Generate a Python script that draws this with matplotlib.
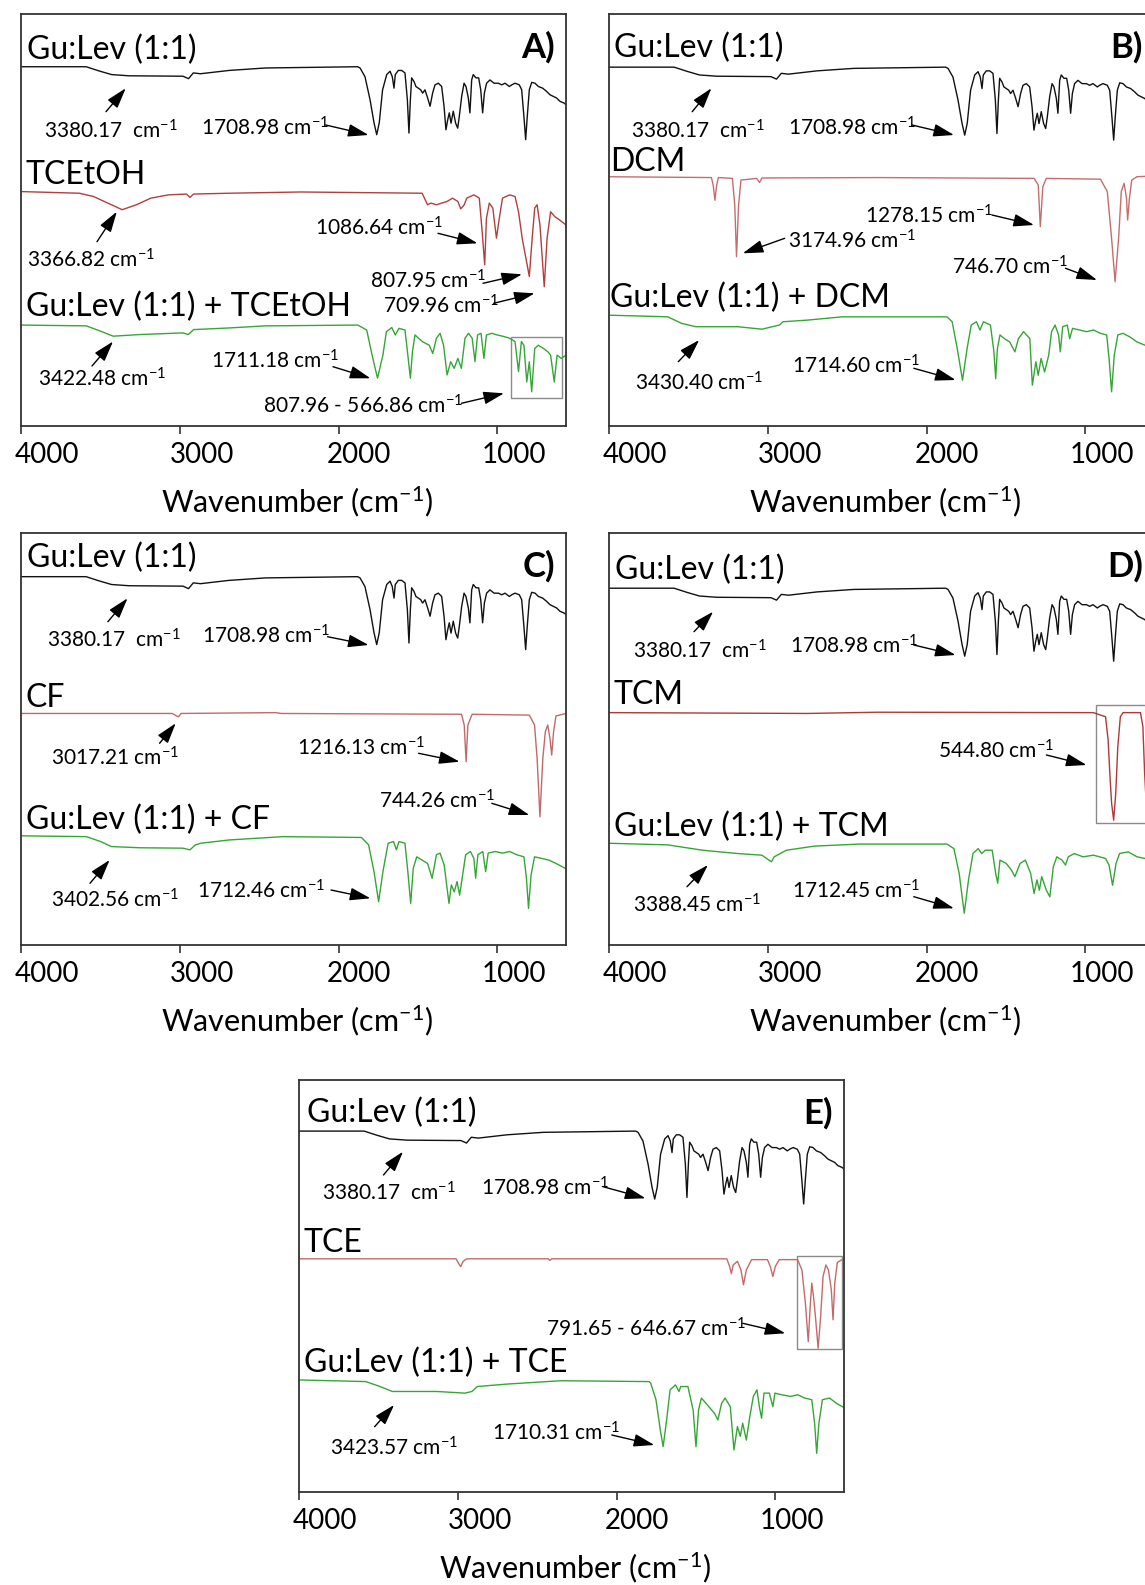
"""FTIR spectra of Gu:Lev (1:1) with five chlorinated solvents, panels A-E."""
import matplotlib
matplotlib.use("Agg")
import matplotlib.pyplot as plt
from matplotlib.patches import Rectangle
from matplotlib.transforms import ScaledTranslation, blended_transform_factory

plt.rcParams["font.family"] = ["Lato", "DejaVu Sans"]
plt.rcParams["mathtext.fontset"] = "custom"
plt.rcParams["mathtext.rm"] = "Lato"
plt.rcParams["mathtext.it"] = "Lato:italic"
plt.rcParams["mathtext.bf"] = "Lato:bold"

FIG_W, FIG_H = 1145, 1585
PANEL_W, PANEL_H = 545, 412
WN_MAX, WN_MIN = 4000, 568
XTICKS = [4000, 3000, 2000, 1000]
XTICK_SHIFT = [26, 22, 20, 17]  # tick labels sit right of their ticks in the original
NOTE_DY = 3  # mathtext superscript pushes the text box up a little

# spectra: (wavenumber, transmittance relative to the plateau)
GULEV = [(4000, 0.0), (3590, 0.0), (3510, -1.0), (3430, -1.9), (3320, -2.2), (2980, -2.3),
         (2945, -2.9), (2915, -1.5), (2870, -1.7), (2690, -0.9), (2460, -0.3), (1880, 0.0),
         (1865, -0.3), (1834, -2.4), (1802, -8.0), (1777, -13.6), (1760, -16.5), (1744, -13.6),
         (1723, -5.6), (1697, -1.9), (1676, -1.1), (1662, -2.4), (1651, -5.2), (1643, -1.9),
         (1624, -0.9), (1603, -0.9), (1582, -1.5), (1567, -8.0), (1557, -16.1), (1548, -8.0),
         (1540, -2.7), (1525, -3.6), (1513, -4.8), (1498, -5.2), (1483, -5.6), (1471, -6.4),
         (1456, -5.6), (1439, -7.6), (1424, -9.6), (1408, -6.4), (1393, -4.4), (1372, -4.0),
         (1351, -4.8), (1336, -9.6), (1324, -15.3), (1313, -12.9), (1303, -11.2), (1292, -13.7),
         (1278, -10.8), (1263, -13.7), (1250, -14.9), (1240, -12.1), (1225, -7.2), (1210, -4.0),
         (1198, -4.8), (1183, -7.6), (1173, -11.2), (1162, -3.2), (1152, -1.9), (1135, -2.7),
         (1118, -2.7), (1105, -5.6), (1093, -11.2), (1082, -6.4), (1068, -4.0), (1047, -3.2),
         (1021, -4.0), (994, -4.0), (973, -4.4), (952, -4.0), (925, -4.8), (910, -4.4),
         (889, -4.0), (862, -4.4), (847, -5.6), (833, -12.1), (822, -17.7), (812, -12.1),
         (799, -5.6), (784, -3.8), (763, -4.0), (742, -4.8), (715, -5.2), (690, -6.0),
         (669, -6.8), (648, -7.2), (627, -7.6), (606, -8.4), (581, -8.8), (568, -9.2)]

TCETOH = [(4000, 0.0), (3633, -0.4), (3543, -1.2), (3453, -2.8), (3363, -4.4), (3273, -3.2),
          (3183, -1.6), (3071, -0.8), (2958, -0.6), (2936, -1.4), (2913, -0.6), (2688, -0.4),
          (2238, -0.1), (1474, -0.4), (1440, -3.2), (1418, -2.8), (1384, -3.2), (1317, -2.4),
          (1283, -1.6), (1249, -2.4), (1231, -4.2), (1209, -3.2), (1193, -1.6), (1148, -0.8),
          (1114, -1.6), (1096, -9.7), (1080, -17.8), (1069, -6.5), (1051, -2.8), (1029, -4.0),
          (1006, -11.3), (988, -6.5), (968, -1.6), (923, -0.8), (889, -1.2), (867, -4.9),
          (844, -11.3), (799, -20.6), (781, -11.3), (765, -4.0), (750, -3.2), (732, -8.1),
          (705, -23.1), (687, -11.3), (665, -4.9), (638, -6.1), (608, -6.9), (568, -8.1)]

MIX_TCETOH = [(4000, 0.0), (3588, -0.2), (3498, -1.5), (3419, -2.7), (3251, -2.3), (2981, -1.9),
              (2947, -2.3), (2913, -1.1), (2688, -0.7), (2463, -0.2), (1879, 0.0), (1823, -1.2),
              (1789, -7.3), (1755, -12.9), (1721, -7.3), (1699, -1.6), (1665, -0.6), (1643, -2.4),
              (1620, -0.8), (1582, -1.2), (1564, -7.3), (1548, -12.9), (1535, -6.5), (1519, -2.4),
              (1474, -4.0), (1429, -4.9), (1407, -6.9), (1384, -3.2), (1361, -2.0), (1339, -4.9),
              (1317, -12.1), (1294, -8.9), (1272, -10.5), (1249, -8.1), (1227, -10.5), (1204, -3.2),
              (1182, -2.0), (1159, -3.2), (1141, -8.9), (1125, -2.4), (1103, -2.0), (1085, -8.1),
              (1069, -2.4), (1035, -2.0), (1002, -2.4), (957, -2.8), (923, -3.2), (889, -4.0),
              (867, -11.3), (849, -4.0), (833, -4.9), (815, -13.8), (799, -8.9), (784, -16.2),
              (765, -5.7), (743, -4.9), (709, -5.7), (682, -6.5), (665, -7.3), (642, -13.8),
              (624, -7.3), (597, -8.1), (568, -7.3)]

DCM = [(4000, 0.0), (3355, -0.2), (3344, -2.0), (3333, -5.7), (3322, -2.0), (3311, -0.2),
       (3223, -0.4), (3208, -6.9), (3197, -19.4), (3184, -6.9), (3169, -0.8), (3070, -0.4),
       (3052, -1.4), (3037, -0.3), (2312, -0.2), (1323, -0.4), (1297, -2.0), (1284, -12.1),
       (1268, -2.4), (1246, -0.4), (905, -0.6), (862, -3.6), (835, -15.0), (813, -25.5),
       (791, -15.0), (774, -3.6), (756, -1.6), (741, -5.3), (734, -10.5), (723, -5.3),
       (708, -0.8), (675, 0.0), (568, 0.2)]

MIX_DCM = [(4000, 0.4), (3630, 0.0), (3542, -1.6), (3454, -2.4), (3190, -2.4), (3037, -3.0),
           (2927, -2.0), (2905, -1.2), (2751, -0.8), (2531, 0.0), (1872, 0.0), (1839, -1.2),
           (1807, -7.7), (1774, -15.4), (1745, -7.7), (1719, -2.0), (1686, -1.2), (1664, -3.2),
           (1642, -1.2), (1598, -2.0), (1576, -8.5), (1565, -15.0), (1554, -7.7), (1538, -4.4),
           (1510, -5.3), (1477, -6.1), (1444, -8.5), (1422, -5.3), (1389, -3.6), (1350, -5.3),
           (1334, -16.6), (1312, -10.9), (1297, -14.2), (1279, -10.1), (1257, -13.4), (1231, -9.3),
           (1213, -3.6), (1191, -2.0), (1169, -4.4), (1158, -8.5), (1143, -2.4), (1114, -2.0),
           (1099, -5.3), (1081, -2.8), (1037, -3.2), (993, -3.6), (949, -3.2), (906, -4.0),
           (866, -4.4), (851, -10.1), (835, -18.2), (818, -9.3), (796, -4.4), (763, -4.0),
           (719, -4.9), (675, -6.1), (624, -6.9), (568, -7.5)]

CF = [(4000, 0.0), (3048, 0.0), (3021, -0.6), (3008, -0.8), (2992, 0.0), (2396, 0.2),
      (2362, 0.0), (1226, -0.2), (1209, -2.8), (1197, -11.7), (1186, -2.8), (1159, -0.2),
      (799, -0.4), (766, -2.8), (750, -10.9), (732, -25.1), (714, -10.9), (698, -4.4),
      (683, -2.8), (669, -6.1), (658, -10.1), (646, -4.4), (631, -0.6), (568, 0.0)]

MIX_CF = [(4000, 0.2), (3588, 0.0), (3498, -1.2), (3431, -2.4), (3251, -2.7), (2981, -2.8),
          (2936, -3.2), (2902, -2.0), (2868, -1.6), (2688, -0.8), (2351, 0.0), (1856, -0.2),
          (1811, -2.0), (1777, -8.5), (1748, -15.8), (1721, -8.5), (1688, -1.6), (1654, -1.2),
          (1636, -3.2), (1620, -1.2), (1582, -1.6), (1564, -8.5), (1546, -16.2), (1530, -7.7),
          (1508, -4.9), (1474, -5.7), (1440, -6.5), (1411, -10.1), (1384, -4.4), (1361, -4.0),
          (1335, -6.9), (1305, -16.2), (1290, -11.7), (1272, -13.4), (1254, -10.9), (1238, -14.2),
          (1222, -10.1), (1200, -4.4), (1170, -3.6), (1148, -5.3), (1137, -10.1), (1123, -4.4),
          (1092, -3.6), (1074, -8.5), (1058, -4.0), (1013, -3.6), (968, -4.0), (923, -3.6),
          (878, -4.4), (833, -4.9), (817, -10.1), (804, -17.4), (788, -9.3), (766, -4.9),
          (720, -5.3), (676, -5.7), (631, -6.5), (568, -7.8)]

TCM = [(4000, 0.0), (2751, -0.2), (2312, 0.1), (950, 0.0), (873, -1.0), (857, -6.6),
       (844, -16.3), (835, -22.0), (822, -26.1), (809, -19.6), (796, -8.3), (780, -1.0),
       (763, 0.0), (653, 0.0), (638, -3.4), (627, -14.7), (616, -22.7), (600, -24.0), (568, -24.0)]

MIX_TCM = [(4000, 0.2), (3630, -0.2), (3410, -1.5), (3190, -2.3), (3037, -2.7), (2993, -3.9),
           (2977, -4.3), (2960, -3.1), (2883, -1.5), (2707, -0.5), (2422, 0.0), (1872, 0.0),
           (1828, -1.1), (1795, -7.1), (1763, -16.8), (1736, -8.7), (1708, -2.3), (1675, -1.1),
           (1653, -2.3), (1631, -1.5), (1587, -1.5), (1565, -7.1), (1552, -9.5), (1538, -3.9),
           (1499, -4.7), (1466, -6.3), (1444, -7.9), (1411, -4.7), (1378, -3.9), (1345, -7.1),
           (1323, -12.0), (1305, -8.7), (1290, -11.2), (1275, -7.9), (1246, -11.2), (1224, -12.8),
           (1202, -5.5), (1180, -3.1), (1147, -3.9), (1125, -5.1), (1108, -3.1), (1070, -2.3),
           (1015, -3.1), (949, -2.7), (873, -3.5), (851, -5.1), (829, -10.0), (807, -4.7),
           (785, -2.3), (730, -1.9), (675, -3.1), (624, -3.5), (568, -3.8)]

TCE = [(4000, 0.0), (3011, 0.0), (2995, -1.1), (2982, -1.9), (2966, -0.6), (2944, 0.0),
       (2431, 0.0), (2420, -0.4), (2409, 0.0), (1306, 0.0), (1288, -1.9), (1277, -3.6),
       (1266, -1.5), (1239, -0.6), (1217, -2.7), (1201, -6.3), (1183, -2.7), (1150, -0.2),
       (1050, -0.2), (1032, -1.9), (1016, -4.3), (1001, -1.9), (976, -0.2), (860, -0.2),
       (833, -2.7), (811, -10.8), (793, -20.1), (782, -12.3), (771, -5.9), (760, -9.1),
       (748, -14.0), (731, -21.7), (715, -14.0), (700, -4.3), (682, -1.5), (666, -2.7),
       (648, -7.5), (637, -14.8), (626, -5.9), (610, -0.9), (581, -0.2), (568, -0.2)]

MIX_TCE = [(4000, 0.4), (3579, 0.0), (3490, -1.2), (3412, -2.4), (3134, -2.4), (2955, -2.8),
           (2911, -2.4), (2877, -1.2), (2688, -0.6), (2354, 0.2), (1796, 0.0), (1785, -0.4),
           (1752, -4.4), (1725, -11.7), (1707, -15.8), (1685, -9.3), (1663, -2.0), (1629, -0.8),
           (1607, -2.4), (1596, -1.2), (1551, -1.2), (1518, -6.9), (1500, -15.8), (1484, -6.9),
           (1466, -4.0), (1428, -5.7), (1384, -7.7), (1362, -9.3), (1339, -5.3), (1317, -4.0),
           (1284, -6.1), (1261, -16.6), (1239, -10.9), (1221, -13.3), (1206, -10.1), (1183, -14.2),
           (1161, -8.5), (1139, -3.6), (1116, -2.0), (1101, -6.1), (1087, -8.9), (1072, -2.8),
           (1038, -2.8), (1016, -6.1), (1003, -2.8), (961, -3.2), (905, -3.6), (860, -3.2),
           (815, -4.0), (771, -4.4), (753, -10.1), (740, -17.4), (726, -10.1), (704, -4.4),
           (659, -4.0), (615, -5.3), (568, -6.3)]

BLACK = "#111111"
GREEN = "#36a636"

# panel layout: top-left corner in figure pixels, plateau level of each trace (0-100 of panel height)
PANELS = [
    dict(tag="A)", left=21, top=14, solvent="TCEtOH", spec=TCETOH, mix=MIX_TCETOH,
         red="#b0403e", base=(87.2, 56.9, 24.5),
         lab=[(6.5, 36), (4.7, 161), (4.7, 292.7)],
         notes=[("3380.17  cm$^{-1}$", (22.6, 114), (85, 97.7), (104.7, 74.3)),
                ("1708.98 cm$^{-1}$", (179.7, 111), (304.7, 111), (347.6, 121)),
                ("3366.82 cm$^{-1}$", (6.5, 242.7), (76, 227.7), (95.8, 197.7)),
                ("1086.64 cm$^{-1}$", (294, 211), (417, 219.3), (456.5, 229.3)),
                ("807.95 cm$^{-1}$", (349, 264.3), (462, 269.3), (501, 260.3)),
                ("709.96 cm$^{-1}$", (362, 289.3), (472.6, 289.3), (513.6, 279.3)),
                ("3422.48 cm$^{-1}$", (17.2, 362), (71, 352), (92, 327.5)),
                ("1711.18 cm$^{-1}$", (190.4, 344.3), (312, 352.7), (349.4, 364.3)),
                ("807.96 - 566.86 cm$^{-1}$", (242, 389.3), (440.4, 389.3), (483, 379.3))],
         box=(490, 323, 541, 384)),
    dict(tag="B)", left=609, top=14, solvent="DCM", spec=DCM, mix=MIX_DCM,
         red="#c46e6e", base=(87.1, 60.5, 26.5),
         lab=[(4.7, 34.3), (1.2, 147.7), (1.2, 284.3)],
         notes=[("3380.17  cm$^{-1}$", (22, 114.3), (83.2, 97.7), (102.4, 74.3)),
                ("1708.98 cm$^{-1}$", (179, 111), (303, 111), (345, 121)),
                ("1278.15 cm$^{-1}$", (256, 199.3), (383, 201), (425, 211)),
                ("3174.96 cm$^{-1}$", (179, 224.3), (175.7, 224.3), (133.8, 239.3)),
                ("746.70 cm$^{-1}$", (343, 250), (456.5, 254.3), (488, 266)),
                ("3430.40 cm$^{-1}$", (25.6, 366), (69.3, 347.7), (90.2, 326)),
                ("1714.60 cm$^{-1}$", (182.6, 349.3), (304.8, 354.3), (346.6, 366))],
         box=None),
    dict(tag="C)", left=21, top=533, solvent="CF", spec=CF, mix=MIX_CF,
         red="#c06a6a", base=(89.4, 56.2, 26.3),
         lab=[(6.5, 25.3), (4.7, 165.3), (4.7, 287)],
         notes=[("3380.17  cm$^{-1}$", (26, 103.7), (86.9, 88.7), (106.5, 65.3)),
                ("1708.98 cm$^{-1}$", (181.5, 100.3), (306.5, 103.7), (347.6, 112)),
                ("3017.21 cm$^{-1}$", (29.7, 222), (138.6, 210.3), (154.7, 190.3)),
                ("1216.13 cm$^{-1}$", (276, 212), (397.6, 220.3), (438.6, 228.7)),
                ("744.26 cm$^{-1}$", (358, 265), (470.8, 270.3), (508.3, 282)),
                ("3402.56 cm$^{-1}$", (29.7, 363.5), (69, 350.3), (88.6, 327)),
                ("1712.46 cm$^{-1}$", (176, 355.3), (310, 357), (349.4, 365.3))],
         box=None),
    dict(tag="D)", left=609, top=533, solvent="TCM", spec=TCM, mix=MIX_TCM,
         red="#b03838", base=(86.6, 56.4, 24.5),
         lab=[(6.4, 37), (4.7, 162), (4.7, 293.7)],
         notes=[("3380.17  cm$^{-1}$", (23.9, 115.3), (85, 98.7), (104.1, 78.7)),
                ("1708.98 cm$^{-1}$", (180.9, 110.3), (304.8, 112), (346.6, 122)),
                ("544.80 cm$^{-1}$", (329.2, 215.3), (437.4, 222), (477.5, 232)),
                ("3388.45 cm$^{-1}$", (23.9, 368.7), (78, 353.7), (98.9, 332)),
                ("1712.45 cm$^{-1}$", (182.6, 355.3), (304.8, 363.7), (344.9, 375.3))],
         box=(487, 172, 560, 290)),
    dict(tag="E)", left=299, top=1080, solvent="TCE", spec=TCE, mix=MIX_TCE,
         red="#c46a6a", base=(87.6, 56.6, 26.8),
         lab=[(8.4, 33.3), (4.8, 163.3), (4.8, 283.3)],
         notes=[("3380.17  cm$^{-1}$", (22.5, 109.5), (84.5, 95), (104, 71.7)),
                ("1708.98 cm$^{-1}$", (181.8, 105), (304, 106.7), (346.4, 118.3)),
                ("791.65 - 646.67 cm$^{-1}$", (247.3, 246.3), (443.8, 243.3), (486.3, 253.3)),
                ("3423.57 cm$^{-1}$", (31.4, 365), (75.6, 346.7), (95.1, 325)),
                ("1710.31 cm$^{-1}$", (192.5, 350), (312.8, 355), (355.3, 365))],
         box=(498, 176, 543, 269)),
]


def frac(rx, ry):
    return rx / PANEL_W, 1 - ry / PANEL_H


def draw_spectrum(ax, spec, base, color):
    wn, t = zip(*spec)
    ax.plot(wn, [base + v for v in t], color=color, lw=1.0, solid_joinstyle="round")


def draw_panel(fig, p):
    ax = fig.add_axes([p["left"] / FIG_W, 1 - (p["top"] + PANEL_H) / FIG_H,
                       PANEL_W / FIG_W, PANEL_H / FIG_H])
    ax.set_xlim(WN_MAX, WN_MIN)
    ax.set_ylim(0, 100)

    draw_spectrum(ax, GULEV, p["base"][0], BLACK)
    draw_spectrum(ax, p["spec"], p["base"][1], p["red"])
    draw_spectrum(ax, p["mix"], p["base"][2], GREEN)

    names = ["Gu:Lev (1:1)", p["solvent"], "Gu:Lev (1:1) + " + p["solvent"]]
    for name, pos in zip(names, p["lab"]):
        ax.text(*frac(*pos), name, transform=ax.transAxes, ha="left", va="center", fontsize=23)
    ax.text(*frac(534, 33), p["tag"], transform=ax.transAxes, ha="right", va="center",
            fontsize=25, fontweight="bold", clip_on=False)

    for text, (tx, ty), tail, head in p["notes"]:
        ax.text(*frac(tx, ty + NOTE_DY), text, transform=ax.transAxes, ha="left", va="center",
                fontsize=15)
        ax.annotate("", xy=frac(*head), xytext=frac(*tail), xycoords="axes fraction",
                    textcoords="axes fraction",
                    arrowprops=dict(arrowstyle="-|>,head_length=0.9,head_width=0.28",
                                    color="black", lw=1.0, shrinkA=0, shrinkB=0,
                                    mutation_scale=14))

    if p["box"] is not None:
        x0, y0, x1, y1 = p["box"]
        bx, by = frac(x0, y1)
        ax.add_patch(Rectangle((bx, by), (x1 - x0) / PANEL_W, (y1 - y0) / PANEL_H,
                               transform=ax.transAxes, fill=False, edgecolor="#8a8a8a",
                               lw=1.0, clip_on=False))

    for s in ax.spines.values():
        s.set_color("#333333")
        s.set_linewidth(1.3)
    ax.set_yticks([])
    ax.set_xticks(XTICKS)
    ax.tick_params(axis="x", direction="out", length=6, width=1.2, color="#333333",
                   labelbottom=False)
    for v, dx in zip(XTICKS, XTICK_SHIFT):
        tr = blended_transform_factory(ax.transData, ax.transAxes) + \
            ScaledTranslation(dx / 100, 0, fig.dpi_scale_trans)
        ax.text(v, -29 / PANEL_H, str(v), transform=tr, ha="center", va="center", fontsize=20)

    ax.set_xlabel("Wavenumber (cm$^{-1}$)", fontsize=22)
    ax.xaxis.set_label_coords(0.506, -76 / PANEL_H)
    ax.xaxis.label.set_va("center")
    return ax


def main():
    fig = plt.figure(figsize=(FIG_W / 100, FIG_H / 100), dpi=100)
    for p in PANELS:
        draw_panel(fig, p)
    fig.savefig("out.png", dpi=100)


if __name__ == "__main__":
    main()
